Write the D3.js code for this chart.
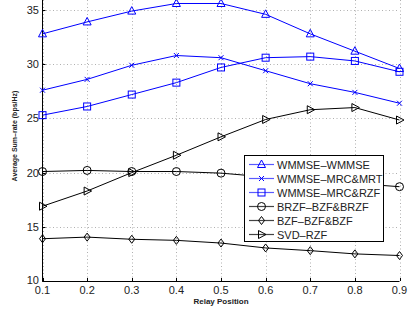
<!DOCTYPE html>
<html>
<head>
<meta charset="utf-8">
<script src="https://cdn.jsdelivr.net/npm/d3@7"></script>
<style>
    body { margin: 0; background: #fff; }
    svg { display: block; font-family: "Liberation Sans", Arial, sans-serif; }
    .grid line { stroke: #b0b0b0; stroke-dasharray: 1,2.5; stroke-width: 1; }
    .tick-label { font-size: 11px; fill: #222; }
</style>
</head>
<body>
<svg id="chart" width="412" height="311"></svg>
<script>
// Data
var positions = [0.1, 0.2, 0.3, 0.4, 0.5, 0.6, 0.7, 0.8, 0.9];
var xTicks = [0.1, 0.2, 0.3, 0.4, 0.5, 0.6, 0.7, 0.8, 0.9];
var yTicks = [10, 15, 20, 25, 30, 35];

var wmmseWmmse = [32.8, 33.9, 34.9, 35.6, 35.6, 34.6, 32.8, 31.2, 29.6];
var wmmseMrcMrt = [27.6, 28.6, 29.9, 30.8, 30.6, 29.4, 28.2, 27.4, 26.4];
var wmmseMrcRzf = [25.3, 26.1, 27.2, 28.3, 29.7, 30.6, 30.7, 30.3, 29.3];
var brzf = [20.1, 20.2, 20.1, 20.1, 19.95, 19.6, 19.3, 19.0, 18.7];
var bzf = [13.9, 14.05, 13.85, 13.75, 13.5, 13.05, 12.8, 12.5, 12.35];
var svdRzf = [16.9, 18.3, 20.0, 21.6, 23.3, 24.9, 25.8, 26.0, 24.85];

var seriesNames = ["WMMSE\u2013WMMSE", "WMMSE\u2013MRC&MRT", "WMMSE\u2013MRC&RZF",
                   "BRZF\u2013BZF&BRZF", "BZF\u2013BZF&BZF", "SVD\u2013RZF"];
var seriesValues = [wmmseWmmse, wmmseMrcMrt, wmmseMrcRzf, brzf, bzf, svdRzf];
var seriesMarkers = ["triUp", "cross", "square", "circle", "diamond", "triRight"];
var seriesColors = ["#0000ff", "#0000ff", "#0000ff", "#000", "#000", "#000"];

var svg = d3.select("#chart");

// Axis
var x = d3.scaleLinear().domain([0.1, 0.9]).range([42.5, 399.5]);
var y = d3.scaleLinear().domain([10, 36]).range([281, 281 - 26 * 10.84]);

// grid
var grid = svg.append("g").attr("class", "grid");
grid.selectAll("line.v")
    .data(xTicks)
    .enter()
    .append("line")
    .attr("x1", function(d) { return Math.round(x(d)) + 0.5; })
    .attr("x2", function(d) { return Math.round(x(d)) + 0.5; })
    .attr("y1", y(10))
    .attr("y2", 0);
grid.selectAll("line.h")
    .data(yTicks)
    .enter()
    .append("line")
    .attr("x1", x(0.1))
    .attr("x2", x(0.9))
    .attr("y1", function(d) { return Math.round(y(d)) + 0.5; })
    .attr("y2", function(d) { return Math.round(y(d)) + 0.5; });

// axis lines
svg.append("line")
    .attr("x1", x(0.1)).attr("x2", x(0.1))
    .attr("y1", 0).attr("y2", y(10) + 0.5)
    .attr("stroke", "#000").attr("stroke-width", 1);
svg.append("line")
    .attr("x1", x(0.1)).attr("x2", x(0.9))
    .attr("y1", y(10) + 0.5).attr("y2", y(10) + 0.5)
    .attr("stroke", "#000").attr("stroke-width", 1);

// inward ticks
svg.selectAll("line.xtick")
    .data(xTicks)
    .enter()
    .append("line")
    .attr("x1", function(d) { return Math.round(x(d)) + 0.5; })
    .attr("x2", function(d) { return Math.round(x(d)) + 0.5; })
    .attr("y1", y(10))
    .attr("y2", y(10) - 3)
    .attr("stroke", "#000");
svg.selectAll("line.ytick")
    .data(yTicks)
    .enter()
    .append("line")
    .attr("x1", x(0.1))
    .attr("x2", x(0.1) + 3)
    .attr("y1", function(d) { return Math.round(y(d)) + 0.5; })
    .attr("y2", function(d) { return Math.round(y(d)) + 0.5; })
    .attr("stroke", "#000");

// tick labels
svg.selectAll("text.xl")
    .data(xTicks)
    .enter()
    .append("text")
    .attr("class", "tick-label")
    .attr("x", function(d) { return x(d); })
    .attr("y", 293.5)
    .attr("text-anchor", "middle")
    .text(function(d) { return d3.format(".1f")(d); });
svg.selectAll("text.yl")
    .data(yTicks)
    .enter()
    .append("text")
    .attr("class", "tick-label")
    .attr("x", 39)
    .attr("y", function(d) { return y(d) + (d == 10 ? 3 : 4); })
    .attr("text-anchor", "end")
    .text(function(d) { return d; });

// axis titles
svg.append("text")
    .attr("x", 221)
    .attr("y", 304)
    .attr("text-anchor", "middle")
    .attr("font-size", "8px")
    .attr("font-weight", "bold")
    .attr("fill", "#222")
    .text("Relay Position");
svg.append("text")
    .attr("transform", "translate(17,136) rotate(-90)")
    .attr("text-anchor", "middle")
    .attr("font-size", "7px")
    .attr("font-weight", "bold")
    .attr("fill", "#222")
    .text("Average Sum\u2013rate (bps/Hz)");

// markers
function drawMarker(g, type, cx, cy, color) {
    var s = 4;
    if (type == "triUp") {
        g.append("path")
            .attr("d", "M" + cx + "," + (cy - s - 0.5) + "L" + (cx + s) + "," + (cy + s - 1) + "L" + (cx - s) + "," + (cy + s - 1) + "Z")
            .attr("fill", "none").attr("stroke", color);
    } else if (type == "triRight") {
        g.append("path")
            .attr("d", "M" + (cx + s + 0.5) + "," + cy + "L" + (cx - s + 1) + "," + (cy - s) + "L" + (cx - s + 1) + "," + (cy + s) + "Z")
            .attr("fill", "none").attr("stroke", color);
    } else if (type == "square") {
        g.append("rect")
            .attr("x", cx - 3.5).attr("y", cy - 3.5)
            .attr("width", 7).attr("height", 7)
            .attr("fill", "none").attr("stroke", color);
    } else if (type == "circle") {
        g.append("circle")
            .attr("cx", cx).attr("cy", cy).attr("r", 4)
            .attr("fill", "none").attr("stroke", color);
    } else if (type == "diamond") {
        g.append("path")
            .attr("d", "M" + cx + "," + (cy - s) + "L" + (cx + s - 1) + "," + cy + "L" + cx + "," + (cy + s) + "L" + (cx - s + 1) + "," + cy + "Z")
            .attr("fill", "none").attr("stroke", color);
    } else if (type == "cross") {
        var c = 2.5;
        g.append("path")
            .attr("d", "M" + (cx - c) + "," + (cy - c) + "L" + (cx + c) + "," + (cy + c) + "M" + (cx + c) + "," + (cy - c) + "L" + (cx - c) + "," + (cy + c))
            .attr("fill", "none").attr("stroke", color);
    }
}

var sumLine = d3.line()
    .x(function(d, i) { return x(positions[i]); })
    .y(function(d) { return y(d); });

var plot = svg.append("g").attr("class", "series");
seriesValues.forEach(function(vals, k) {
    var g = plot.append("g");
    g.append("path")
        .datum(vals)
        .attr("d", sumLine)
        .attr("fill", "none")
        .attr("stroke", seriesColors[k])
        .attr("stroke-width", 1);
    vals.forEach(function(v, i) {
        drawMarker(g, seriesMarkers[k], x(positions[i]), y(v), seriesColors[k]);
    });
});

// Legend
var legend = svg.append("g").attr("class", "legend");
legend.append("rect")
    .attr("x", 244.5).attr("y", 155.5)
    .attr("width", 139).attr("height", 86)
    .attr("fill", "#fff").attr("stroke", "#000");
seriesNames.forEach(function(name, k) {
    var ly = 164.5 + k * 14;
    var lc = k < 3 ? "#5a5aff" : "#444";
    legend.append("line")
        .attr("x1", 249).attr("x2", 274)
        .attr("y1", ly).attr("y2", ly)
        .attr("stroke", lc).attr("stroke-width", 1.2);
    drawMarker(legend, seriesMarkers[k], 261.5, ly, k < 3 ? "#0000ff" : "#000");
    legend.append("text")
        .attr("x", 277)
        .attr("y", ly + 4)
        .attr("font-size", "11px")
        .attr("fill", "#222")
        .text(name);
});
</script>
</body>
</html>
